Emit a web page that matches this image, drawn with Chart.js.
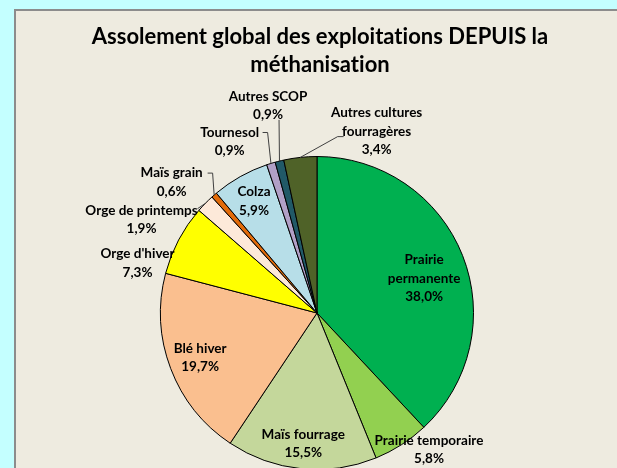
<!DOCTYPE html>
<html>
<head>
<meta charset="utf-8">
<script src="https://cdn.jsdelivr.net/npm/chart.js@4.4.0/dist/chart.umd.min.js"></script>
<style>
  html, body { margin: 0; padding: 0; overflow: hidden; background: #c4ffff; }
  canvas { display: block; }
</style>
</head>
<body>
<canvas id="pie" width="617" height="480"></canvas>
<script>
// categories, shares (%) and slice colours, clockwise from 12 o'clock
const categories = [
    'Prairie permanente', 'Prairie temporaire', 'Maïs fourrage', 'Blé hiver',
    "Orge d'hiver", 'Orge de printemps', 'Maïs grain', 'Colza',
    'Tournesol', 'Autres SCOP', 'Autres cultures fourragères'
];
const shares = [38.0, 5.8, 15.5, 19.7, 7.3, 1.9, 0.6, 5.9, 0.9, 0.9, 3.4];
const sliceColors = [
    '#00b050', '#92d050', '#c4d79b', '#fabf8f', '#ffff00', '#fde9d9',
    '#e26b0a', '#b7dee8', '#b1a0c7', '#215967', '#4f6228'
];
const titleLines = ['Assolement global des exploitations DEPUIS la', 'méthanisation'];

// label text lines per slice (Excel-like wrapping)
const labelLines = [
    ['Prairie', 'permanente'], ['Prairie temporaire'], ['Maïs fourrage'], ['Blé hiver'],
    ["Orge d'hiver"], ['Orge de printemps'], ['Maïs grain'], ['Colza'],
    ['Tournesol'], ['Autres SCOP'], ['Autres cultures', 'fourragères']
];

// label placement: polar position (deg clockwise from top, fraction of radius),
// optional leader line start/elbow relative to label centre
const labelPlacement = [
    { ang: 72, rf: 0.72 },
    { ang: 140.7, rf: 1.13 },
    { ang: 186, rf: 0.84 },
    { ang: 249, rf: 0.80 },
    { ang: 285.5, rf: 1.19 },
    { ang: 298, rf: 1.27, lead: [[56, -11]] },
    { ang: 312, rf: 1.25, lead: [[36, -9], [41, -9]] },
    { ang: 330.6, rf: 0.82 },
    { ang: 333, rf: 1.23, lead: [[33, -9], [38, -9]] },
    { ang: 346.7, rf: 1.36, lead: [[11, 14]] },
    { ang: 18.2, rf: 1.22, lead: [[-33, 5], [-39, 5]] }
];

const LABEL_FONT = 'bold 13.5px Lato';
const LINE_GAP = 18.5;

function fmt(v) {
    return v.toFixed(1).replace('.', ',') + '%';
}

function noLigatures(ctx) {
    ctx.textRendering = 'optimizeSpeed';
    ctx.letterSpacing = '0.01px';
}

const frameAndTitle = {
    id: 'frameAndTitle',
    beforeDraw(chart) {
        const ctx = chart.ctx;
        ctx.save();
        ctx.fillStyle = '#c4ffff';
        ctx.fillRect(0, 0, chart.width, chart.height);
        ctx.fillStyle = '#eeebe0';
        ctx.fillRect(14, 9, chart.width - 14, chart.height - 9);
        ctx.strokeStyle = '#8c8c8c';
        ctx.lineWidth = 2;
        ctx.beginPath();
        ctx.moveTo(15, chart.height);
        ctx.lineTo(15, 10);
        ctx.lineTo(chart.width, 10);
        ctx.stroke();
        noLigatures(ctx);
        ctx.fillStyle = '#000';
        ctx.font = 'bold 22px Lato';
        ctx.textAlign = 'center';
        ctx.textBaseline = 'middle';
        ctx.fillText(titleLines[0], 320, 37);
        ctx.fillText(titleLines[1], 320, 65);
        ctx.restore();
    }
};

const sliceLabels = {
    id: 'sliceLabels',
    afterDatasetsDraw(chart) {
        const ctx = chart.ctx;
        const arcs = chart.getDatasetMeta(0).data;
        ctx.save();
        noLigatures(ctx);
        arcs.forEach((arc, i) => {
            const p = labelPlacement[i];
            const cx = arc.x, cy = arc.y, r = arc.outerRadius;
            const a = p.ang * Math.PI / 180;
            const lx = cx + Math.sin(a) * r * p.rf;
            const ly = cy - Math.cos(a) * r * p.rf;
            const lines = labelLines[i].concat([fmt(shares[i])]);

            if (p.lead) {
                const mid = (arc.startAngle + arc.endAngle) / 2;
                ctx.strokeStyle = '#404040';
                ctx.lineWidth = 1;
                ctx.beginPath();
                ctx.moveTo(lx + p.lead[0][0], ly + p.lead[0][1]);
                for (let k = 1; k < p.lead.length; k++) {
                    ctx.lineTo(lx + p.lead[k][0], ly + p.lead[k][1]);
                }
                ctx.lineTo(cx + Math.cos(mid) * r, cy + Math.sin(mid) * r);
                ctx.stroke();
            }

            ctx.fillStyle = '#000';
            ctx.font = LABEL_FONT;
            ctx.textAlign = 'center';
            ctx.textBaseline = 'middle';
            const top = ly - (lines.length - 1) * LINE_GAP / 2;
            lines.forEach((t, k) => ctx.fillText(t, lx, top + k * LINE_GAP));
        });
        ctx.restore();
    }
};

new Chart(document.getElementById('pie'), {
    type: 'pie',
    data: {
        labels: categories,
        datasets: [{
            data: shares,
            backgroundColor: sliceColors,
            borderColor: '#000',
            borderWidth: 1
        }]
    },
    options: {
        responsive: false,
        animation: false,
        layout: {
            padding: { top: 156, bottom: 10, left: 160, right: 143 }
        },
        plugins: {
            legend: { display: false },
            tooltip: { enabled: false },
            title: { display: false }
        }
    },
    plugins: [frameAndTitle, sliceLabels]
});
</script>
</body>
</html>
